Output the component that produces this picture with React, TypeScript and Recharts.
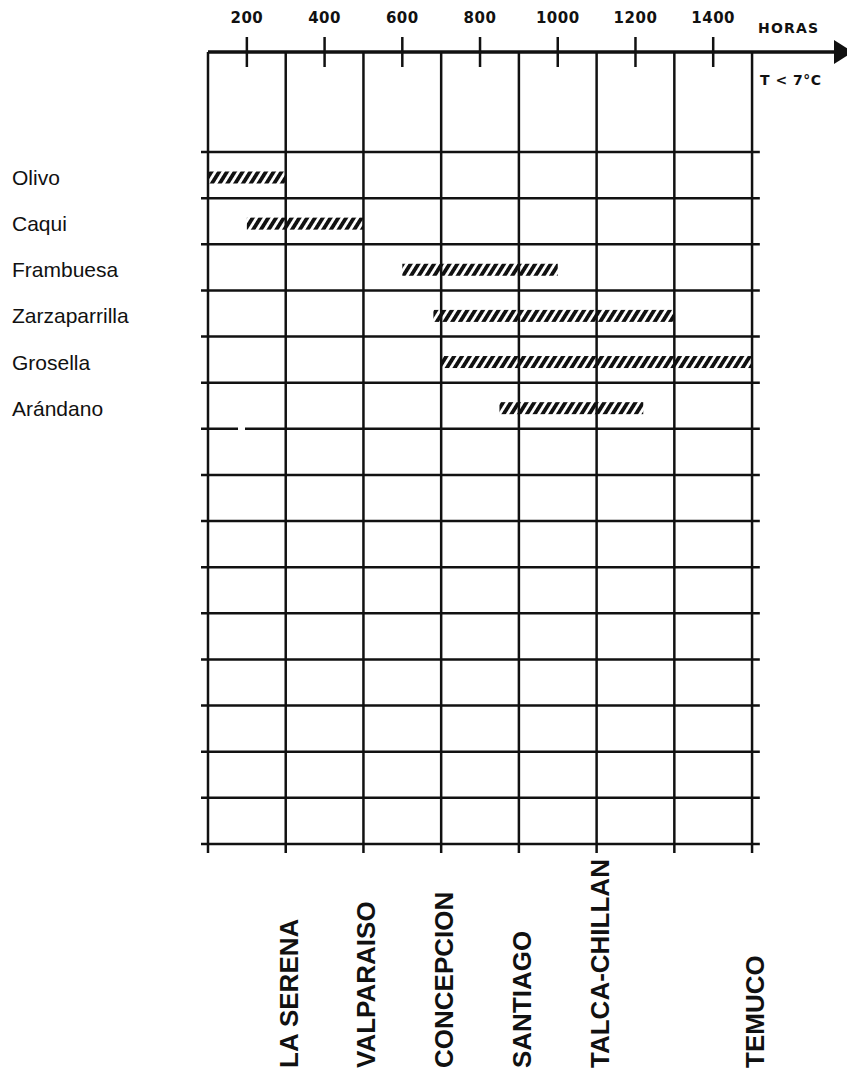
import { BarChart, Bar, XAxis, YAxis, ReferenceLine } from "recharts";

const fruits = ["Olivo", "Caqui", "Frambuesa", "Zarzaparrilla", "Grosella", "Arándano"];
const startHours = [100, 200, 600, 680, 700, 850];
const endHours = [300, 500, 1000, 1300, 1500, 1220];
const blankRows = 9;

const hourTicks = [200, 400, 600, 800, 1000, 1200, 1400];
const gridHours = [100, 300, 500, 700, 900, 1100, 1300, 1500];

const places = ["LA SERENA", "VALPARAISO", "CONCEPCION", "SANTIAGO", "TALCA-CHILLAN", "TEMUCO"];
const placeHours = [300, 500, 700, 900, 1100, 1500];

const rows = [
  ...fruits.map((name, i) => ({ name, span: [startHours[i], endHours[i]] })),
  ...Array.from({ length: blankRows }, (_, i) => ({ name: `fila ${i + 7}`, span: null })),
];

const INK = "#111";
const SANS = "Liberation Sans, Arial, sans-serif";
const WIDE = "DejaVu Sans, sans-serif";

function TopTick({ x, y, payload }: any) {
  return (
    <g>
      <line x1={x} x2={x} y1={y - 15} y2={y + 15} stroke={INK} strokeWidth={2.5} />
      <text x={x} y={y - 29} textAnchor="middle" fontFamily={WIDE} fontWeight="bold" fontSize={15} letterSpacing={0.5} fill={INK}>
        {payload.value}
      </text>
    </g>
  );
}

function FruitTick({ x, y, payload }: any) {
  if (!fruits.includes(payload.value)) return null;
  return (
    <text x={x - 196} y={y + 10} fontFamily={SANS} fontSize={21} fill={INK}>
      {payload.value}
    </text>
  );
}

function PlaceTick({ x, y, payload }: any) {
  const i = placeHours.indexOf(payload.value);
  if (i < 0) return null;
  return (
    <text
      transform={`translate(${x + 12},${y + 215}) rotate(-90)`}
      fontFamily={SANS}
      fontWeight="bold"
      fontSize={26}
      fill={INK}
    >
      {places[i]}
    </text>
  );
}

function HatchBar(props: any) {
  const { x, y, width, height } = props;
  if (!width) return null;
  return <rect x={x} y={y + 2.5} width={width} height={height} fill="url(#hatch)" />;
}

export default function App() {
  const lineStyle = { stroke: INK, strokeWidth: 2.5 };
  return (
    <div style={{ width: 847, height: 1072, background: "#fff" }}>
      <BarChart
        width={847}
        height={1072}
        layout="vertical"
        data={rows}
        margin={{ top: 14, right: 19, bottom: 0, left: 0 }}
      >
        <defs>
          <pattern id="hatch" patternUnits="userSpaceOnUse" width={6.6} height={14} patternTransform="rotate(32)">
            <rect x={0} y={0} width={3.8} height={14} fill={INK} />
          </pattern>
          <marker id="arrowHead" markerUnits="userSpaceOnUse" markerWidth={22} markerHeight={26} refX={2} refY={12} orient="auto">
            <path d="M0,0 L19,12 L0,24 Z" fill={INK} />
          </marker>
        </defs>

        <XAxis
          xAxisId="top"
          type="number"
          orientation="top"
          domain={[100, 1716]}
          allowDataOverflow
          ticks={hourTicks}
          height={30}
          tickLine={false}
          tickSize={0}
          tickMargin={0}
          axisLine={{ stroke: INK, strokeWidth: 3.5, markerEnd: "url(#arrowHead)" }}
          tick={TopTick}
        />
        <XAxis
          xAxisId="bottom"
          type="number"
          orientation="bottom"
          domain={[100, 1716]}
          allowDataOverflow
          ticks={gridHours}
          height={236}
          axisLine={false}
          tickLine={{ stroke: INK, strokeWidth: 2.5 }}
          tickSize={9}
          tickMargin={0}
          tick={PlaceTick}
        />
        <YAxis
          type="category"
          dataKey="name"
          width={200}
          padding={{ top: 100, bottom: 0 }}
          axisLine={false}
          tickLine={false}
          tickSize={0}
          tickMargin={0}
          tick={FruitTick}
          interval={0}
        />

        {gridHours.map((h) => (
          <ReferenceLine key={`v${h}`} xAxisId="top" x={h} {...lineStyle} />
        ))}
        {rows.map((r, i) => (
          <ReferenceLine
            key={`h${i}`}
            xAxisId="top"
            position="start"
            ifOverflow="visible"
            segment={[{ x: 82, y: r.name }, { x: 1520, y: r.name }]}
            {...lineStyle}
            strokeDasharray={i === 6 ? "37 7 1000" : undefined}
          />
        ))}
        <ReferenceLine
          xAxisId="top"
          position="end"
          ifOverflow="visible"
          segment={[{ x: 82, y: rows[rows.length - 1].name }, { x: 1520, y: rows[rows.length - 1].name }]}
          {...lineStyle}
        />

        <Bar xAxisId="top" dataKey="span" barSize={12} shape={HatchBar} isAnimationActive={false} />

        <text x={750} y={25} fontFamily={WIDE} fontWeight="bold" fontSize={14} letterSpacing={1.2} fill={INK}>
          HORAS
        </text>
        <text x={752} y={77} fontFamily={WIDE} fontWeight="bold" fontSize={14} letterSpacing={0.5} fill={INK}>
          T &lt; 7°C
        </text>
      </BarChart>
    </div>
  );
}
